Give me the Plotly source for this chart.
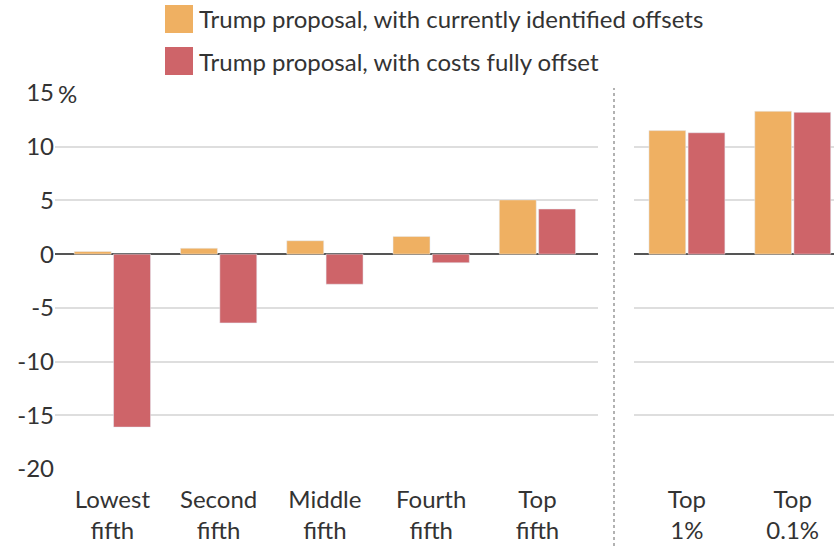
import plotly.graph_objects as go

left_categories = ["Lowest<br>fifth", "Second<br>fifth", "Middle<br>fifth", "Fourth<br>fifth", "Top<br>fifth"]
right_categories = ["Top<br>1%", "Top<br>0.1%"]
series_names = ["Trump proposal, with currently identified offsets",
                "Trump proposal, with costs fully offset"]
identified_left = [0.25, 0.55, 1.25, 1.65, 5.05]
identified_right = [11.5, 13.3]
fully_left = [-16.1, -6.4, -2.8, -0.8, 4.2]
fully_right = [11.3, 13.2]
y_ticks = [15, 10, 5, 0, -5, -10, -15, -20]
y_ticklabels = ["15", "10", "5", "0", "-5", "-10", "-15", "-20"]
unit_label = "%"

ORANGE = "#EFB062"
RED = "#CE6469"
FONT = "Lato"
TXT = "#333333"

fig = go.Figure()
fig.add_trace(go.Bar(x=left_categories, y=identified_left, marker_color=ORANGE,
                     name=series_names[0], xaxis="x", yaxis="y", showlegend=False))
fig.add_trace(go.Bar(x=left_categories, y=fully_left, marker_color=RED,
                     name=series_names[1], xaxis="x", yaxis="y", showlegend=False))
fig.add_trace(go.Bar(x=right_categories, y=identified_right, marker_color=ORANGE,
                     name=series_names[0], xaxis="x2", yaxis="y2", showlegend=False))
fig.add_trace(go.Bar(x=right_categories, y=fully_right, marker_color=RED,
                     name=series_names[1], xaxis="x2", yaxis="y2", showlegend=False))

W, H = 834, 546
ml, mr, mt, mb = 55, 0, 93, 77
pw = W - ml - mr
ph = H - mt - mb
left_end = (598 - ml) / pw
right_start = (634 - ml) / pw


def px_x(x):
    return (x - ml) / pw


def px_y(y):
    return (H - mb - y) / ph


xfont = dict(family=FONT, size=24, color=TXT)
yfont = dict(family=FONT, size=24, color=TXT)
yax_common = dict(range=[-20, 15], tickvals=y_ticks, showgrid=True, gridcolor="#DEDEDE",
                  gridwidth=1.5, zeroline=True, zerolinecolor="#555555", zerolinewidth=2,
                  fixedrange=True)

fig.update_layout(
    width=W, height=H,
    margin=dict(l=ml, r=mr, t=mt, b=mb),
    paper_bgcolor="white", plot_bgcolor="white",
    barmode="group", bargap=0.26, bargroupgap=0.06,
    font=dict(family=FONT, color=TXT),
    xaxis=dict(domain=[0, left_end], range=[-0.54, 4.57], tickfont=xfont,
               showline=False, ticks="", ticklabelstandoff=14, fixedrange=True),
    xaxis2=dict(domain=[right_start, 1], range=[-0.5, 1.39], tickfont=xfont,
                showline=False, ticks="", ticklabelstandoff=14, anchor="y2", fixedrange=True),
    yaxis=dict(**yax_common, ticktext=y_ticklabels, tickfont=yfont, ticklabelstandoff=0),
    yaxis2=dict(**yax_common, showticklabels=False, anchor="x2", matches="y"),
    showlegend=False,
)

# gap in top gridline for the unit label
fig.add_shape(type="line", xref="paper", yref="y", x0=0, x1=px_x(84), y0=15, y1=15,
              line=dict(color="white", width=4), layer="above")
fig.add_annotation(xref="paper", yref="y", x=px_x(56), y=15, text=unit_label,
                   showarrow=False, xanchor="left", yanchor="middle",
                   font=yfont)

# dotted separator
sep_x = 614
fig.add_shape(type="line", xref="paper", yref="paper",
              x0=px_x(sep_x), x1=px_x(sep_x), y0=px_y(546), y1=px_y(88),
              line=dict(color="#999999", width=1.5, dash="dot"))

# custom legend
legend_rows = [(5, 33, ORANGE, series_names[0]), (47, 75, RED, series_names[1])]
for y0, y1, col, name in legend_rows:
    fig.add_shape(type="rect", xref="paper", yref="paper",
                  x0=px_x(165), x1=px_x(193), y0=px_y(y1), y1=px_y(y0),
                  fillcolor=col, line=dict(width=0))
    fig.add_annotation(xref="paper", yref="paper", x=px_x(197), y=px_y((y0 + y1) / 2),
                       text=name, showarrow=False, xanchor="left", yanchor="middle",
                       font=dict(family=FONT, size=24, color=TXT))

fig.write_html("out.html", config={"displayModeBar": False},
               post_script="document.body.style.margin='0';document.body.style.overflow='hidden';")
